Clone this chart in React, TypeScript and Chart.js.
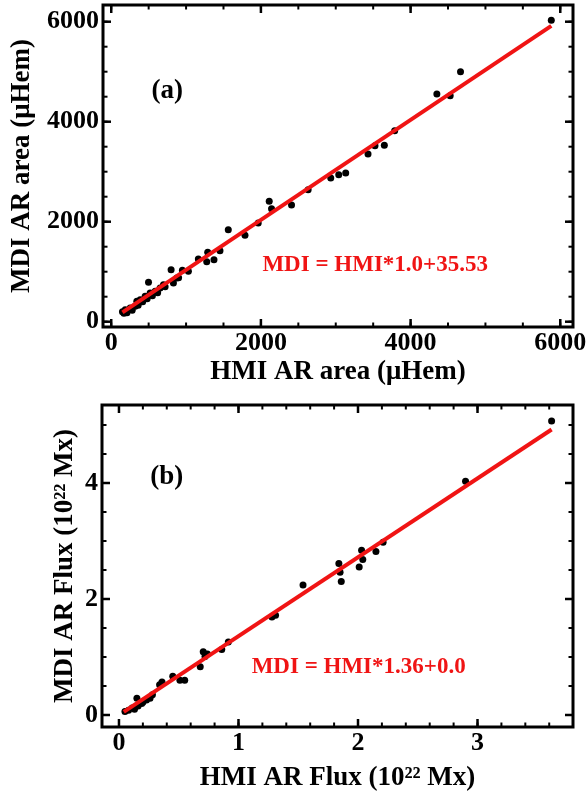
import React, { useEffect, useRef } from 'react';
import { Chart, registerables } from 'chart.js';

Chart.register(...registerables);

// ---------- Panel (a): AR area ----------
const areaHMI = [150, 170, 187, 210, 253, 280, 320, 342, 360, 387, 420, 453, 480, 498, 520, 550, 587, 620, 653, 698, 720, 800, 831, 876, 900, 951, 1031, 1164, 1276, 1289, 1373, 1453, 1564, 1787, 1964, 2111, 2142, 2409, 2631, 2933, 3040, 3133, 3431, 3524, 3649, 3787, 4351, 4529, 4667, 5880];
const areaMDI = [200, 170, 240, 180, 273, 230, 307, 407, 330, 440, 400, 507, 460, 787, 573, 520, 607, 580, 673, 740, 700, 1040, 773, 873, 880, 1027, 1007, 1253, 1200, 1387, 1240, 1420, 1840, 1727, 1973, 2407, 2260, 2333, 2640, 2873, 2940, 2973, 3353, 3520, 3527, 3820, 4553, 4520, 5000, 6027];
const areaTickValues = [0, 2000, 4000, 6000];
const areaTickLabels = ['0', '2000', '4000', '6000'];
const areaFitX = [150, 5880];
const areaSlope = 1.0;
const areaIntercept = 35.53;

// ---------- Panel (b): AR flux ----------
const fluxHMI = [0.05, 0.08, 0.11, 0.13, 0.15, 0.16, 0.19, 0.2, 0.23, 0.26, 0.28, 0.34, 0.36, 0.45, 0.51, 0.55, 0.68, 0.705, 0.72, 0.74, 0.86, 0.915, 1.28, 1.31, 1.54, 1.84, 1.85, 1.86, 2.01, 2.03, 2.04, 2.15, 2.21, 2.9, 3.62];
const fluxMDI = [0.06, 0.08, 0.12, 0.1, 0.29, 0.155, 0.2, 0.22, 0.26, 0.29, 0.35, 0.52, 0.57, 0.67, 0.6, 0.6, 0.83, 1.09, 1.01, 1.05, 1.13, 1.26, 1.69, 1.72, 2.24, 2.61, 2.46, 2.3, 2.55, 2.84, 2.68, 2.82, 2.98, 4.03, 5.07];
const fluxXTickValues = [0, 1, 2, 3];
const fluxXTickLabels = ['0', '1', '2', '3'];
const fluxYTickValues = [0, 2, 4];
const fluxYTickLabels = ['0', '2', '4'];
const fluxFitX = [0.04, 3.62];
const fluxSlope = 1.36;
const fluxIntercept = 0.0;

const RED = '#f01414';
const FAMILY = "'Liberation Serif', 'Times New Roman', serif";

const framePlugin = {
  id: 'frameTicks',
  afterDraw(chart: any, _args: any, opts: any) {
    const { ctx, chartArea } = chart;
    const { left, right, top, bottom } = chartArea;
    const xs = chart.scales.x;
    const ys = chart.scales.y;
    ctx.save();
    ctx.strokeStyle = '#000';
    ctx.lineCap = 'butt';
    const seg = (x1: number, y1: number, x2: number, y2: number) => {
      ctx.beginPath();
      ctx.moveTo(x1, y1);
      ctx.lineTo(x2, y2);
      ctx.stroke();
    };
    const drawXTick = (v: number, len: number) => {
      const p = xs.getPixelForValue(v);
      if (p <= left + 2 || p >= right - 2) return;
      seg(p, bottom, p, bottom - len);
      seg(p, top, p, top + len);
    };
    const drawYTick = (v: number, len: number) => {
      const p = ys.getPixelForValue(v);
      if (p <= top + 2 || p >= bottom - 2) return;
      seg(left, p, left + len, p);
      seg(right, p, right - len, p);
    };
    ctx.lineWidth = 2;
    for (let i = 0; ; i++) {
      const v = opts.xMinorStart + i * opts.xMinor;
      if (v > xs.max) break;
      drawXTick(v, 4.5);
    }
    for (let i = 0; ; i++) {
      const v = opts.yMinorStart + i * opts.yMinor;
      if (v > ys.max) break;
      drawYTick(v, 4.5);
    }
    ctx.lineWidth = 2.5;
    opts.xMajor.forEach((v: number) => drawXTick(v, 8));
    opts.yMajor.forEach((v: number) => drawYTick(v, 8));
    ctx.lineWidth = 3;
    ctx.strokeRect(left, top, right - left, bottom - top);

    (opts.labels || []).forEach((l: any) => {
      ctx.fillStyle = l.color;
      ctx.font = `bold ${l.size}px ${FAMILY}`;
      ctx.textAlign = l.align;
      ctx.textBaseline = 'middle';
      ctx.fillText(l.text, xs.getPixelForValue(l.x), ys.getPixelForValue(l.y));
    });
    ctx.restore();
  },
};

function buildConfig(p: any) {
  const fitData = p.fitX.map((x: number) => ({ x, y: p.slope * x + p.intercept }));
  const pts = p.xs.map((x: number, i: number) => ({ x, y: p.ys[i] }));
  const tickFont = { family: FAMILY, size: 26, weight: 'bold' as const, lineHeight: 1 };
  const titleFont = { family: FAMILY, size: 27, weight: 'bold' as const, lineHeight: 1 };
  return {
    type: 'scatter' as const,
    data: {
      datasets: [
        {
          type: 'line' as const,
          data: fitData,
          borderColor: RED,
          backgroundColor: RED,
          borderWidth: 4,
          pointRadius: 0,
          showLine: true,
          fill: false,
          order: 0,
        },
        {
          type: 'scatter' as const,
          data: pts,
          backgroundColor: '#000',
          borderColor: '#000',
          borderWidth: 0,
          pointRadius: 3.5,
          order: 1,
        },
      ],
    },
    options: {
      animation: false,
      responsive: false,
      events: [],
      layout: { padding: { left: 0, top: p.padTop, right: p.padRight, bottom: 0 } },
      plugins: {
        legend: { display: false },
        tooltip: { enabled: false },
        frameTicks: {
          xMajor: p.xTicks,
          yMajor: p.yTicks,
          xMinor: p.xMinor,
          yMinor: p.yMinor,
          xMinorStart: p.xMinorStart,
          yMinorStart: p.yMinorStart,
          labels: p.labels,
        },
      },
      scales: {
        x: {
          type: 'linear' as const,
          position: 'bottom' as const,
          min: p.xMin,
          max: p.xMax,
          grid: { display: false, drawTicks: false },
          border: { display: false },
          afterBuildTicks: (s: any) => {
            s.ticks = p.xTicks.map((v: number) => ({ value: v }));
          },
          afterFit: (s: any) => {
            s.height = p.xAxisH;
            s.paddingLeft = 0;
            s.paddingRight = 0;
            s.paddingTop = 0;
            s.paddingBottom = 0;
          },
          ticks: {
            font: tickFont,
            color: '#000',
            padding: p.xTickPad,
            maxRotation: 0,
            autoSkip: false,
            callback: (_v: any, i: number) => p.xTickLabels[i],
          },
          title: {
            display: true,
            text: p.xTitle,
            font: titleFont,
            color: '#000',
            padding: { top: 0, bottom: p.xTitlePad },
          },
        },
        y: {
          type: 'linear' as const,
          position: 'left' as const,
          min: p.yMin,
          max: p.yMax,
          grid: { display: false, drawTicks: false },
          border: { display: false },
          afterBuildTicks: (s: any) => {
            s.ticks = p.yTicks.map((v: number) => ({ value: v }));
          },
          afterFit: (s: any) => {
            s.width = p.yAxisW;
            s.paddingLeft = 0;
            s.paddingRight = 0;
            s.paddingTop = 0;
            s.paddingBottom = 0;
          },
          ticks: {
            font: tickFont,
            color: '#000',
            padding: 4,
            autoSkip: false,
            callback: (_v: any, i: number) => p.yTickLabels[i],
          },
          title: {
            display: true,
            text: p.yTitle,
            font: titleFont,
            color: '#000',
            padding: { top: p.yTitlePad, bottom: 0 },
          },
        },
      },
    },
    plugins: [framePlugin],
  };
}

const panelA = {
  xs: areaHMI,
  ys: areaMDI,
  fitX: areaFitX,
  slope: areaSlope,
  intercept: areaIntercept,
  xMin: -110,
  xMax: 6170,
  yMin: -106,
  yMax: 6334,
  xTicks: areaTickValues,
  yTicks: areaTickValues,
  xTickLabels: areaTickLabels,
  yTickLabels: areaTickLabels,
  xMinor: 500,
  yMinor: 500,
  xMinorStart: 0,
  yMinorStart: 0,
  padTop: 5,
  padRight: 15,
  xAxisH: 68,
  yAxisW: 103,
  xTickPad: 3,
  xTitlePad: 9.5,
  yTitlePad: 8.5,
  xTitle: 'HMI AR area (μHem)',
  yTitle: 'MDI AR area (μHem)',
  labels: [
    { text: '(a)', x: 750, y: 4620, color: '#000', size: 27, align: 'center' },
    { text: 'MDI = HMI*1.0+35.53', x: 2020, y: 1140, color: RED, size: 23, align: 'left' },
  ],
};

const panelB = {
  xs: fluxHMI,
  ys: fluxMDI,
  fitX: fluxFitX,
  slope: fluxSlope,
  intercept: fluxIntercept,
  xMin: -0.142,
  xMax: 3.799,
  yMin: -0.207,
  yMax: 5.345,
  xTicks: fluxXTickValues,
  yTicks: fluxYTickValues,
  xTickLabels: fluxXTickLabels,
  yTickLabels: fluxYTickLabels,
  xMinor: 0.2,
  yMinor: 0.5,
  xMinorStart: 0,
  yMinorStart: 0,
  padTop: 10,
  padRight: 15,
  xAxisH: 68,
  yAxisW: 102,
  xTickPad: 3,
  xTitlePad: 3.5,
  yTitlePad: 51.5,
  xTitle: 'HMI AR Flux (10²² Mx)',
  yTitle: 'MDI AR Flux (10²² Mx)',
  labels: [
    { text: '(b)', x: 0.4, y: 4.1, color: '#000', size: 27, align: 'center' },
    { text: 'MDI = HMI*1.36+0.0', x: 1.11, y: 0.83, color: RED, size: 23, align: 'left' },
  ],
};

function Panel({ cfg, top, height }: { cfg: any; top: number; height: number }) {
  const ref = useRef<HTMLCanvasElement>(null);
  useEffect(() => {
    if (!ref.current) return;
    const chart = new Chart(ref.current, buildConfig(cfg) as any);
    return () => chart.destroy();
  }, [cfg]);
  return (
    <div style={{ position: 'absolute', left: 0, top, width: 588, height }}>
      <canvas ref={ref} width={588} height={height} style={{ width: 588, height, display: 'block' }} />
    </div>
  );
}

export default function App() {
  return (
    <div style={{ position: 'fixed', left: 0, top: 0, width: 588, height: 795, background: '#fff' }}>
      <Panel cfg={panelA} top={0} height={395} />
      <Panel cfg={panelB} top={395} height={400} />
    </div>
  );
}
